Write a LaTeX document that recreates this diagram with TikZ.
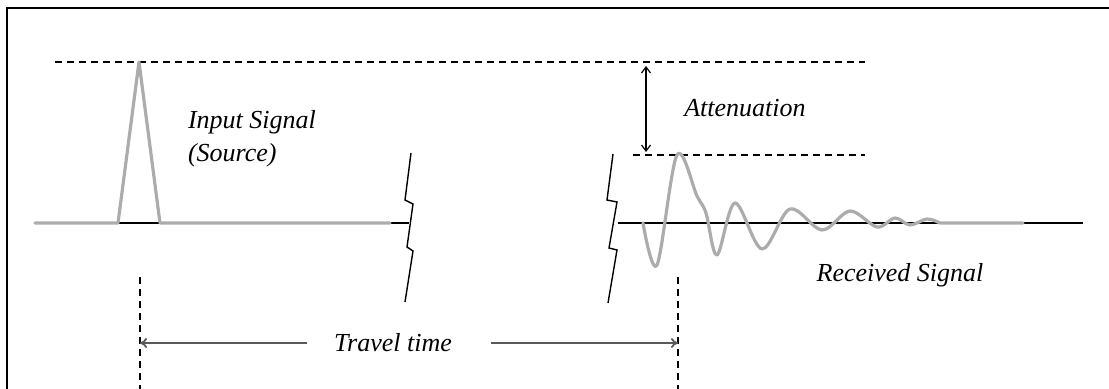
\documentclass[tikz,border=0pt]{standalone}
\usepackage{fontspec}
\setmainfont{Liberation Serif}
\usetikzlibrary{arrows.meta}

\begin{document}
\begin{tikzpicture}[x=0.5pt, y=-0.5pt, font=\fontsize{13}{16.5}\selectfont\itshape,
  sig/.style={line width=1.6pt, gray!65, line join=round, line cap=round},
  base/.style={line width=0.6pt, black},
  guide/.style={line width=0.75pt, dash pattern=on 3.6pt off 2.4pt},
  brk/.style={line width=0.7pt, black},
  span/.style={line width=0.9pt, black!65, -{To[length=3.5pt,width=5pt]}},
  gap/.style={line width=0.6pt, {Straight Barb[length=3pt,width=4.5pt]}-{Straight Barb[length=3pt,width=4.5pt]}}]
\useasboundingbox (0,0) rectangle (1109,389);
% frame (cut off at right and bottom)
\draw[line width=1pt] (7,389) -- (7,8) -- (1109,8);
% reference levels
\coordinate (topL) at (55,62);   \coordinate (topR) at (865,62);
\coordinate (midL) at (633,155); \coordinate (midR) at (865,155);
\draw[guide] (topL) -- (topR);
\draw[guide] (midL) -- (midR);
% source side
\draw[base] (35,223) -- (409,223);
\draw[sig] (35,223) -- (118,223) -- (139,62) -- (160,223) -- (390,223);
\draw[brk] (411,153) -- (405,200) -- (413,204) -- (407,247) -- (413,251) -- (405,302);
\node[align=left, anchor=west] (src) at (181,139) {Input Signal\\(Source)};
% receiver side
\draw[brk] (613,154) -- (607,200) -- (617,202) -- (609,248) -- (617,250) -- (608,303);
\draw[base] (618,223) -- (1083,223);
\draw[sig] plot[smooth, tension=0.55] coordinates {(643,223) (657,265) (677,155) (697,196)
  (706,213) (717,255) (735,203) (762,249) (790,209) (822,230) (850,211) (877,227)
  (895,218) (910,225) (927,219) (940,223)} -- (1023,223);
\node (rcv) at (900,275) {Received Signal};
% attenuation
\coordinate (attT) at (646,66); \coordinate (attB) at (646,152);
\draw[gap] (attT) -- (attB);
\node (att) at (745,108) {Attenuation};
% travel time
\coordinate (srcT) at (140,277); \coordinate (srcB) at (140,392);
\coordinate (rcvT) at (678,277); \coordinate (rcvB) at (678,392);
\draw[guide] (srcT) -- (srcB);
\draw[guide] (rcvT) -- (rcvB);
\node (tt) at (393,343) {Travel time};
\coordinate (ttL) at ([xshift=-10pt]tt.west);
\coordinate (ttR) at ([xshift=16pt]tt.east);
\draw[span] (ttL) -- (ttL -| srcT);
\draw[span] (ttR) -- (ttR -| rcvT);
\end{tikzpicture}
\end{document}
